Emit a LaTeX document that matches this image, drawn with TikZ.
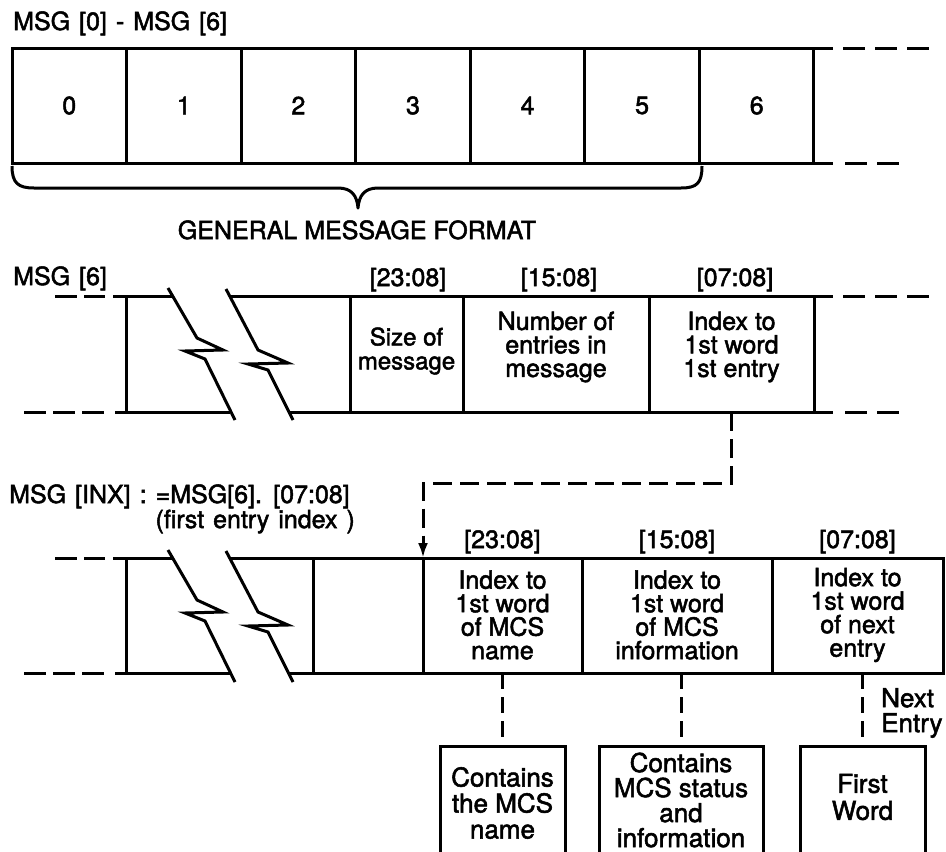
\documentclass[tikz,border=0pt]{standalone}
\usepackage{fontspec}
\setmainfont{TeX Gyre Heros}[FakeBold=2]
\usetikzlibrary{arrows.meta,calc}
\newcommand{\wsp}{\spaceskip=9pt\relax}
\begin{document}
\begin{tikzpicture}[x=1pt,y=-1pt,
  ln/.style={line width=3pt,line join=miter,line cap=butt},
  cellbox/.style={draw,line width=3pt,inner sep=0pt,outer sep=0pt},
  lbl/.style={inner sep=0pt,font={\fontsize{25}{25}\selectfont}},
  ctxt/.style={inner sep=0pt,align=center,font={\fontsize{25}{23.5}\selectfont}},
  btxt/.style={inner sep=0pt,align=center,font={\fontsize{26}{26}\selectfont}},
  dsh/.style={ln,dash pattern=on 22pt off 10pt},
  ldsh/.style={ln,dash pattern=on 21.5pt off 7.5pt},
  vdsh/.style={ln,dash pattern=on 16pt off 8pt},
]
\path[use as bounding box] (0,0) rectangle (946,852);
\clip (0,0) rectangle (946,852);

% ---------- Row 1 : general message format ----------
\node[lbl,anchor=base west] (t1) at (13,30) {\wsp MSG [0] - MSG [6]};
\foreach \i in {0,...,6}
  \node[cellbox,minimum width=114.57pt,minimum height=115pt,
        font={\fontsize{25}{25}\selectfont}] (m\i) at ({12+114.57*(\i+0.5)},105.5) {\i};
\draw[ln] (m6.north east) -- (833,48);
\draw[dsh] (843,48) -- (929,48);
\draw[ln] (m6.south east) -- (833,163);
\draw[dsh] (845,163) -- (899,163);
% brace
\draw[ln,line join=round] (12,166) .. controls (12,183) and (18,188) .. (34,188)
  -- (338,188) .. controls (352,188) and (357,196) .. (358,208)
  .. controls (359,196) and (364,188) .. (378,188)
  -- (681,188) .. controls (697,188) and (702,183) .. (702,166);
\node[ctxt,anchor=base] (gmf) at (357,239) {GENERAL MESSAGE FORMAT};

% ---------- Row 2 : MSG[6] ----------
\node[lbl,anchor=base west] (t2) at (13,285) {\wsp MSG [6]};
\node[ctxt,anchor=base] (h2a) at (408,286) {[23:08]};
\node[ctxt,anchor=base] (h2b) at (559,286) {[15:08]};
\node[ctxt,anchor=base] (h2c) at (735,286) {[07:08]};
\node[cellbox,minimum width=113pt,minimum height=116pt] (r2a) at (406.5,354) {};
\node[cellbox,minimum width=186pt,minimum height=116pt] (r2b) at (556,354) {};
\node[cellbox,minimum width=165pt,minimum height=116pt] (r2c) at (731.5,354) {};
\draw[ln] (126,296) -- (126,412);
\draw[ln] (113,296) -- (172,296);
\draw[ln] (230,296) -- (r2a.north west);
\draw[ln] (115,412) -- (230,412);
\draw[ln] (290,412) -- (r2a.south west);
\draw[ldsh] (55,296) -- (105,296);
\draw[ldsh] (24,412) -- (105,412);
\draw[ln] (168,288) -- (197,338) -- (223,350) -- (185,351) -- (205,359) -- (235,420);
\draw[ln] (226,289) -- (258,350) -- (288,363) -- (248,364) -- (268,370) -- (293,420);
\draw[ln] (r2c.north east) -- (833,296);
\draw[dsh] (843,296) -- (929,296);
\draw[ln] (r2c.south east) -- (833,412);
\draw[dsh] (845,412) -- (899,412);
\node[ctxt,font={\fontsize{24}{24}\selectfont}] (s2a) at (406.5,351) {Size of\\message};
\node[ctxt] (s2b) at (556,347) {Number of\\entries in\\message};
\node[ctxt] (s2c) at (731.5,347) {Index to\\1st word\\1st entry};

% ---------- Row 3 : MSG[INX] ----------
\node[lbl,anchor=base west] (t3) at (9,503) {\wsp MSG [INX] : =MSG[6]. [07:08]};
\node[lbl,anchor=base east] (t4) at (355,528) {\wsp (first entry index )};
\node[ctxt,anchor=base] (h3a) at (502.5,548) {[23:08]};
\node[ctxt,anchor=base] (h3b) at (677,548) {[15:08]};
\node[ctxt,anchor=base] (h3c) at (857.5,548) {[07:08]};
\node[cellbox,minimum width=110pt,minimum height=115pt] (r3a) at (368,615.5) {};
\node[cellbox,minimum width=159pt,minimum height=115pt] (r3b) at (502.5,615.5) {};
\node[cellbox,minimum width=190pt,minimum height=115pt] (r3c) at (677,615.5) {};
\node[cellbox,minimum width=171pt,minimum height=115pt] (r3d) at (857.5,615.5) {};
\draw[ln] (126,558) -- (126,673);
\draw[ln] (113,558) -- (172,558);
\draw[ln] (230,558) -- (r3a.north west);
\draw[ln] (115,673) -- (230,673);
\draw[ln] (290,673) -- (r3a.south west);
\draw[ldsh] (55,558) -- (105,558);
\draw[ldsh] (24,673) -- (105,673);
\draw[ln] (168,550) -- (197,600) -- (223,612) -- (185,613) -- (205,621) -- (235,682);
\draw[ln] (226,551) -- (258,612) -- (288,625) -- (248,626) -- (268,632) -- (293,682);
\node[ctxt] (s3b) at (502.5,615) {Index to\\1st word\\of MCS\\name};
\node[ctxt] (s3c) at (677,615) {Index to\\1st word\\of MCS\\information};
\node[ctxt] (s3d) at (857.5,615) {Index to\\1st word\\of next\\entry};

% connector from MSG[6].[07:08] to first entry
\draw[ln,dash pattern=on 19pt off 8pt,-{Latex[length=15pt,width=10pt]}]
  (r2c.south) -- ++(0,71) -| (r3b.north west);

% ---------- Bottom boxes ----------
\node[cellbox,minimum width=125pt,minimum height=130pt] (b1) at (502.5,811) {};
\node[cellbox,minimum width=164pt,minimum height=130pt] (b2) at (681,811) {};
\node[cellbox,minimum width=125pt,minimum height=130pt] (b3) at (862.5,811) {};
\node[btxt] (u1) at (502.5,803) {Contains\\the MCS\\name};
\node[btxt,font={\fontsize{26}{25}\selectfont}] (u2) at (681,800) {Contains\\MCS status\\and\\information};
\node[btxt,font={\fontsize{26}{27}\selectfont}] (u3) at (862.5,797) {First\\Word};
\draw[vdsh] (r3b.south) -- (b1.north);
\draw[vdsh] (b2.north |- r3c.south) -- (b2.north);
\draw[vdsh] (b3.north |- r3d.south) -- (b3.north);
\node[btxt,align=left,anchor=west,font={\fontsize{26}{25}\selectfont}] (nx) at (881,713) {Next\\Entry};
\end{tikzpicture}
\end{document}
